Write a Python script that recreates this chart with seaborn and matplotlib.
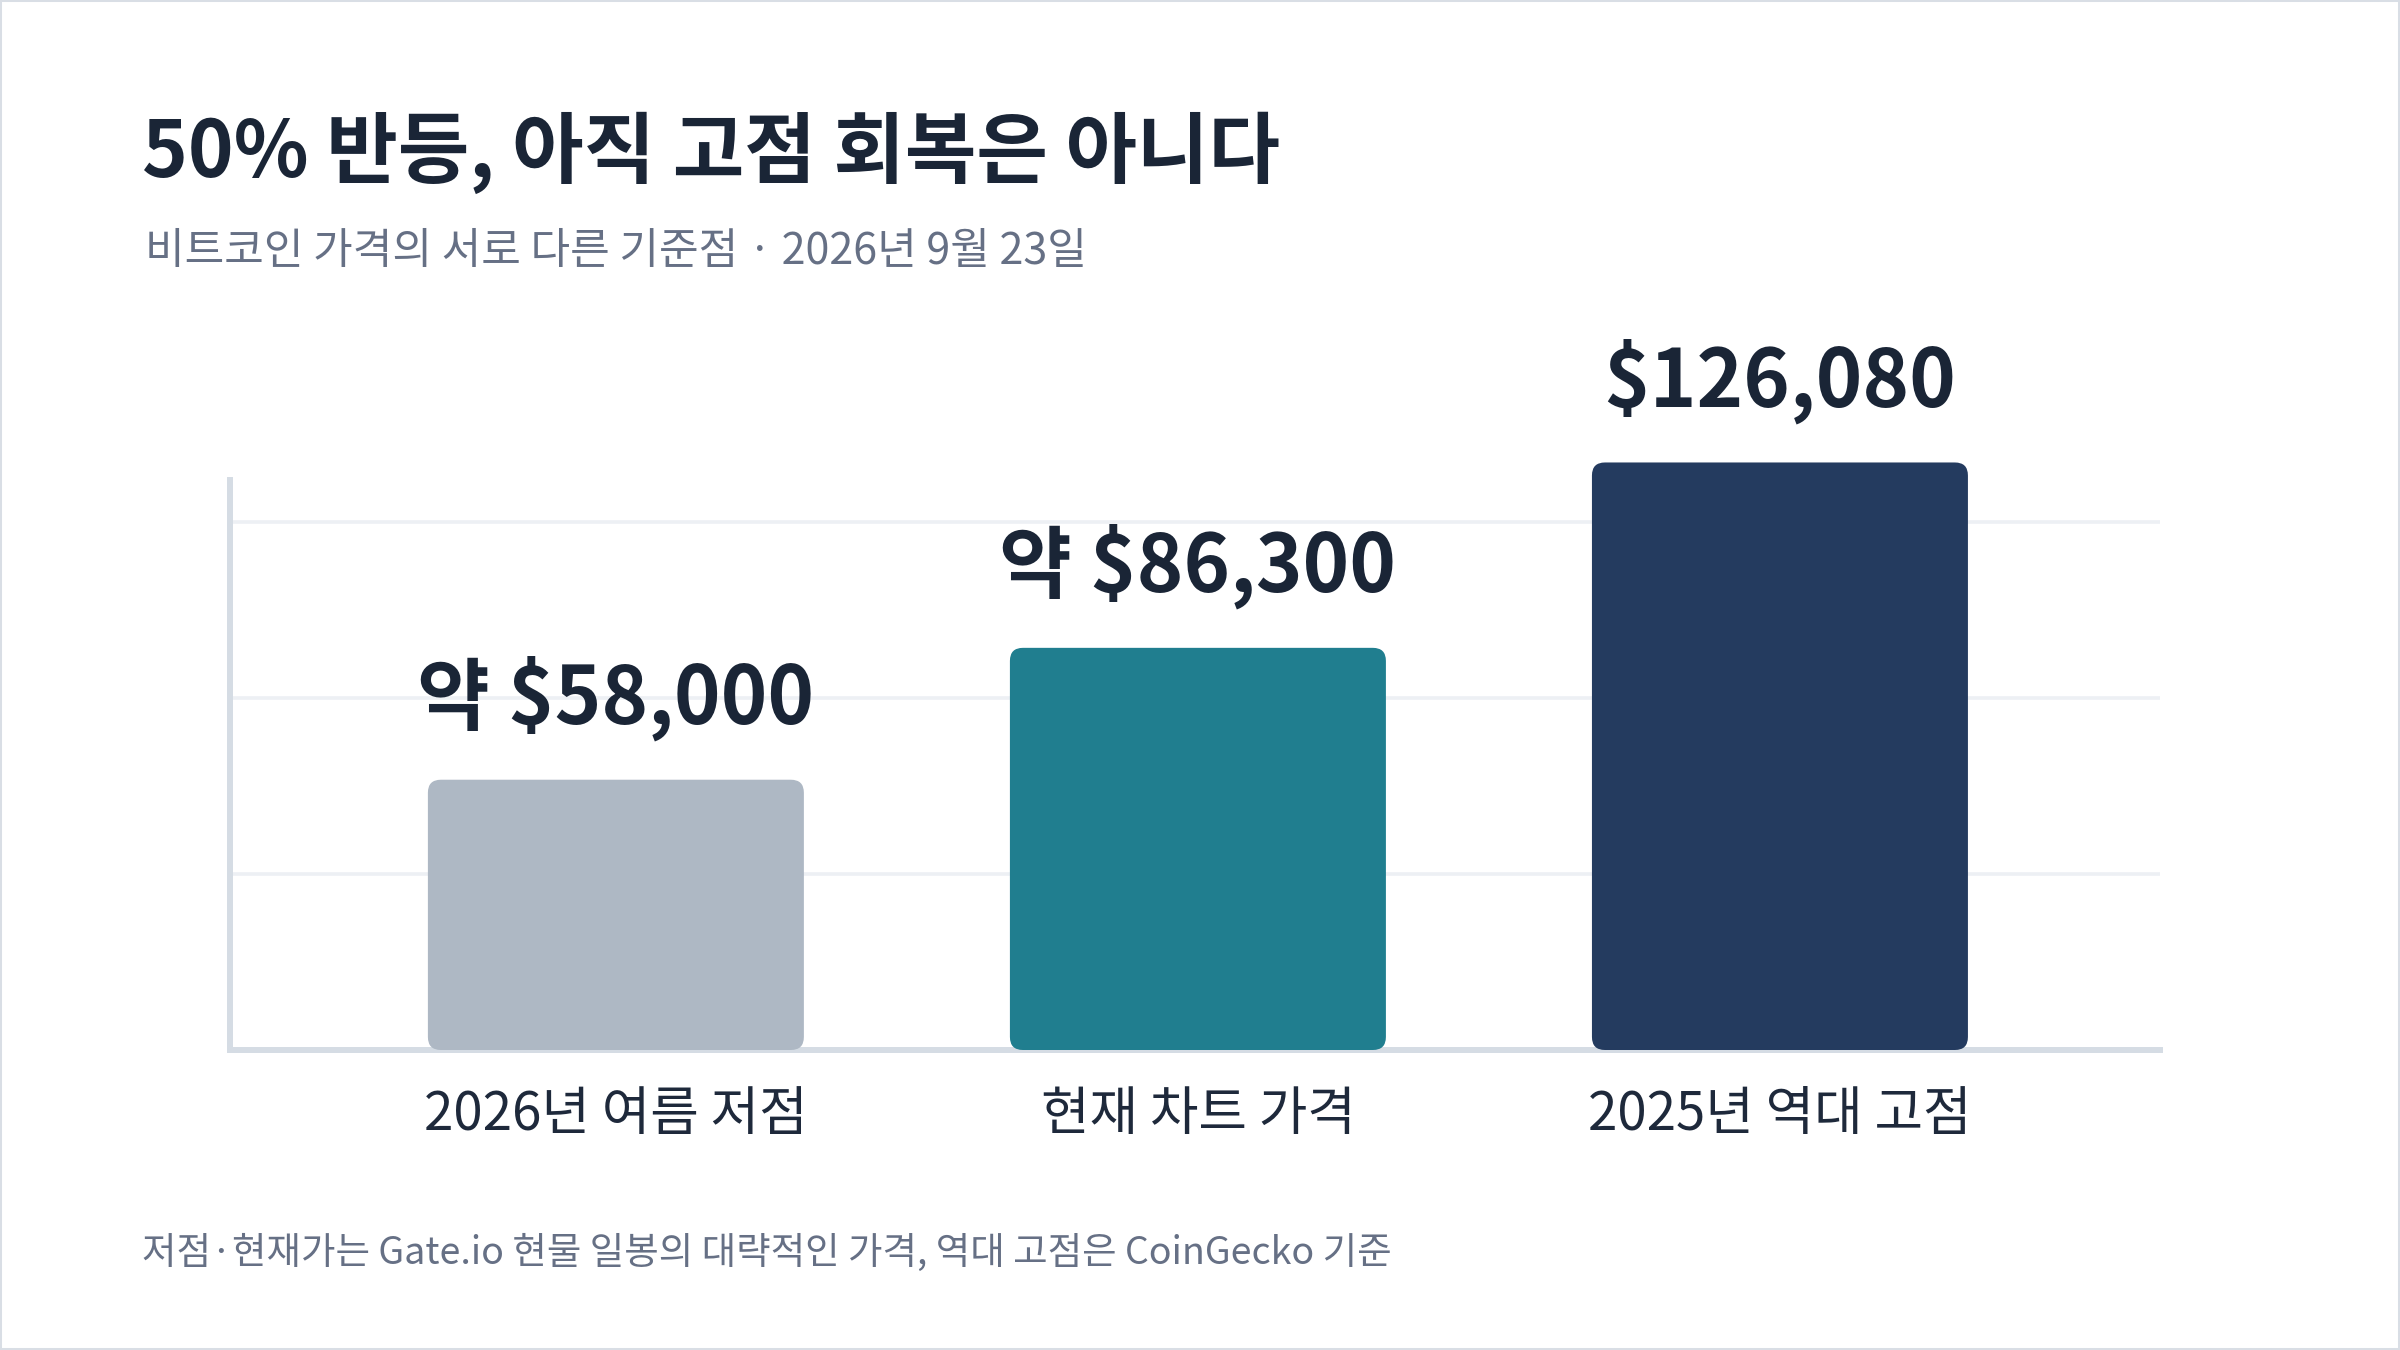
import numpy as np
import pandas as pd
import matplotlib
matplotlib.use("Agg")
import matplotlib.pyplot as plt
import seaborn as sns
from matplotlib.patches import FancyBboxPatch, Rectangle

# ---- data ----
categories = ["2026년 여름 저점", "현재 차트 가격", "2025년 역대 고점"]
values = [58000, 86300, 126080]
value_labels = ["약 $58,000", "약 $86,300", "$126,080"]
bar_colors = ["#aeb8c4", "#207e8f", "#243b5f"]

title = "50% 반등, 아직 고점 회복은 아니다"
subtitle = "비트코인 가격의 서로 다른 기준점 · 2026년 9월 23일"
footnote = "저점·현재가는 Gate.io 현물 일봉의 대략적인 가격, 역대 고점은 CoinGecko 기준"

# ---- style ----
sns.set_theme(style="white")
plt.rcParams['font.family'] = ['Noto Sans CJK KR', 'DejaVu Sans']

W, H = 2400, 1350
fig = plt.figure(figsize=(24, 13.5), dpi=100, facecolor='white')
ax = fig.add_axes([230 / W, 1 - 1050 / H, (2160 - 230) / W, 650 / H])
ax.set_facecolor('white')

df = pd.DataFrame({"category": categories, "value": values})
sns.barplot(data=df, x="category", y="value", hue="category",
            palette=bar_colors, legend=False, width=0.646,
            saturation=1, ax=ax)

ax.set_xlim(-0.663, 2.653)
ax.set_ylim(0, 139485)

# grid + spines
ax.set_yticks([37770, 75540, 113300])
ax.yaxis.grid(True, color='#edf0f4', linewidth=2.6)
ax.xaxis.grid(False)
ax.set_axisbelow(True)
ax.tick_params(axis='y', length=0, labelleft=False)
ax.tick_params(axis='x', length=0, pad=27, labelsize=38, labelcolor='#1e293b')
ax.set_xlabel("")
ax.set_ylabel("")
for s in ['top', 'right']:
    ax.spines[s].set_visible(False)
for s in ['left', 'bottom']:
    ax.spines[s].set_color('#d5dce4')
    ax.spines[s].set_linewidth(4.3)
    ax.spines[s].set_zorder(2)
ax.spines['left'].set_bounds(0, 122300)

# rounded bars
p0 = ax.transData.transform((0, 0))
p1 = ax.transData.transform((1, 1))
px_per_x = p1[0] - p0[0]
px_per_y = p1[1] - p0[1]
asp = px_per_x / px_per_y
r = 13 / px_per_x
for patch in list(ax.patches):
    x, y = patch.get_x(), patch.get_y()
    w, h = patch.get_width(), patch.get_height()
    fc = patch.get_facecolor()
    patch.remove()
    ax.add_patch(FancyBboxPatch((x, y), w, h,
                                boxstyle=f"round,pad=0,rounding_size={r}",
                                mutation_aspect=asp, fc=fc, ec='none',
                                zorder=3, clip_on=False))

for i, (v, lab) in enumerate(zip(values, value_labels)):
    ax.annotate(lab, xy=(i, v), xytext=(0, 40.3), textcoords='offset points',
                ha='center', va='baseline', fontsize=57, fontweight='bold',
                color='#1a2536', annotation_clip=False)

# texts
fig.text(142 / W, 1 - 177 / H, title, fontsize=56, fontweight='bold',
         color='#1a2536', ha='left', va='baseline')
fig.text(145 / W, 1 - 264 / H, subtitle, fontsize=31,
         color='#667085', ha='left', va='baseline')
fig.text(142 / W, 1 - 1264 / H, footnote, fontsize=27,
         color='#667085', ha='left', va='baseline')

fig.add_artist(Rectangle((0, 0), 1, 1, transform=fig.transFigure,
                         fill=False, ec='#d9dee5', lw=2.9))

fig.savefig('out.png', dpi=100, facecolor='white')
